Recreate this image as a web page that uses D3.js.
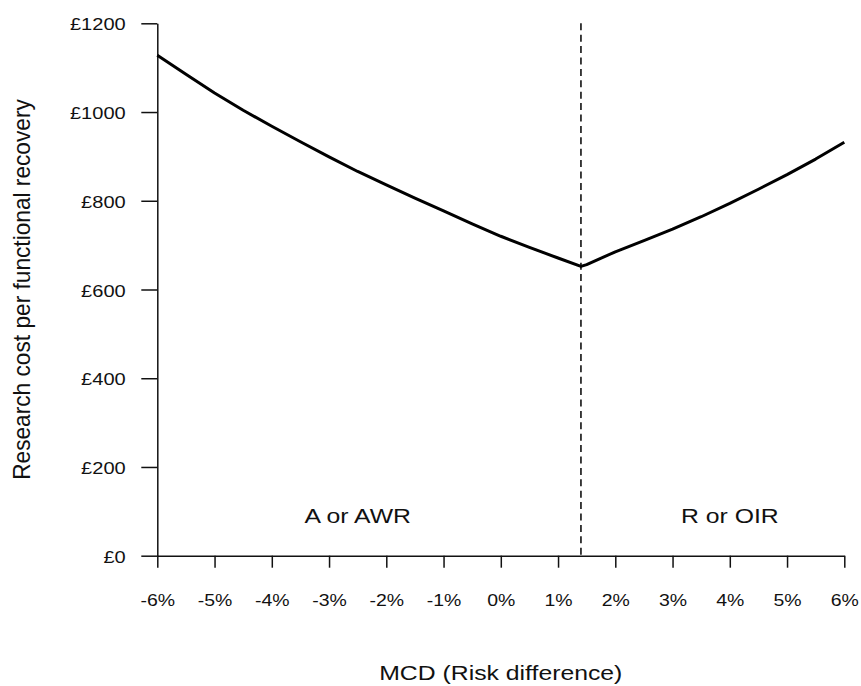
<!DOCTYPE html>
<html>
<head>
<meta charset="utf-8">
<script src="https://cdn.jsdelivr.net/npm/d3@7/dist/d3.min.js"></script>
<style>
  html, body { margin: 0; padding: 0; background: #fff; }
  svg { display: block; }
  text { font-family: "Liberation Sans", Arial, sans-serif; fill: #111; }
</style>
</head>
<body>
<svg id="chart" width="861" height="686"></svg>
<script>
// Minimal clinically important difference (risk difference, %) and the
// expected research cost per functional recovery (£) at each value.
const riskDifference = [
  -6, -5.5, -5, -4.5, -4, -3.5, -3, -2.5, -2, -1.5, -1, -0.5, 0, 0.5, 1, 1.4,
  1.5, 2, 2.5, 3, 3.5, 4, 4.5, 5, 5.5, 6
];
const costPerRecovery = [
  1128, 1085, 1043, 1004, 968, 933, 899, 866, 836, 806, 777, 748, 720, 695, 671, 652,
  656, 685, 710, 736, 764, 794, 826, 859, 894, 932
];

// Threshold MCD where the preferred design switches
const thresholdMCD = 1.4;

// Design regions either side of the threshold
const regionNames = ["A or AWR", "R or OIR"];
const regionAnchors = [-2.5, 4];

// Axis ticks and titles
const xTickValues = [-6, -5, -4, -3, -2, -1, 0, 1, 2, 3, 4, 5, 6];
const yTickValues = [0, 200, 400, 600, 800, 1000, 1200];
const xTitle = "MCD (Risk difference)";
const yTitle = "Research cost per functional recovery";

const width = 861, height = 686;
const margin = { top: 23.3, right: 16.7, bottom: 130.3, left: 157.3 };
const innerW = width - margin.left - margin.right;
const innerH = height - margin.top - margin.bottom;
const stretch = 1.18;   // horizontal widening of the lettering

const svg = d3.select("#chart");
const g = svg.append("g").attr("transform", `translate(${margin.left},${margin.top})`);

const x = d3.scaleLinear().domain([-6, 6]).range([0, innerW]);
const y = d3.scaleLinear().domain([0, 1200]).range([innerH, 0]);

// X axis
const xAxis = g.append("g")
  .attr("transform", `translate(0,${innerH})`)
  .call(d3.axisBottom(x).tickValues(xTickValues).tickSize(12).tickSizeOuter(0)
    .tickFormat(d => d + "%"));
xAxis.select(".domain").attr("stroke", "#111").attr("stroke-width", 1.5);
xAxis.selectAll(".tick line").attr("stroke", "#111").attr("stroke-width", 1.5);
xAxis.selectAll(".tick text")
  .attr("y", 50).attr("dy", 0)
  .attr("font-size", 16.5)
  .attr("transform", `scale(${stretch},1)`)
  .attr("x", 0);

// Y axis
const yAxis = g.append("g")
  .call(d3.axisLeft(y).tickValues(yTickValues).tickSize(16).tickSizeOuter(0)
    .tickFormat(d => "£" + d));
yAxis.select(".domain").attr("stroke", "#111").attr("stroke-width", 1.5);
yAxis.selectAll(".tick line").attr("stroke", "#111").attr("stroke-width", 1.5);
yAxis.selectAll(".tick text")
  .attr("font-size", 17)
  .attr("dy", 0)
  .attr("y", 6.5)
  .attr("x", -31.6 / stretch)
  .attr("transform", `scale(${stretch},1)`);

// Threshold line
g.append("line")
  .attr("x1", x(thresholdMCD)).attr("x2", x(thresholdMCD))
  .attr("y1", y(1200)).attr("y2", y(0))
  .attr("stroke", "#111").attr("stroke-width", 1.6)
  .attr("stroke-dasharray", "7,4.4");

// Cost curve
const line = d3.line()
  .x((d, i) => x(riskDifference[i]))
  .y(d => y(d));
g.append("path")
  .datum(costPerRecovery)
  .attr("d", line)
  .attr("fill", "none")
  .attr("stroke", "#000")
  .attr("stroke-width", 3)
  .attr("stroke-linejoin", "round");

// Region labels
regionNames.forEach((name, i) => {
  g.append("text")
    .attr("transform", `translate(${x(regionAnchors[i])},${innerH - 33}) scale(${stretch},1)`)
    .attr("text-anchor", "middle")
    .attr("font-size", 21)
    .text(name);
});

// Axis titles
svg.append("text")
  .attr("transform", `translate(${margin.left + innerW / 2},${679.5}) scale(${stretch},1)`)
  .attr("text-anchor", "middle")
  .attr("font-size", 21)
  .text(xTitle);

svg.append("text")
  .attr("transform", `translate(${30},${margin.top + innerH / 2}) rotate(-90) scale(1.08,${stretch})`)
  .attr("text-anchor", "middle")
  .attr("font-size", 21)
  .text(yTitle);
</script>
</body>
</html>
